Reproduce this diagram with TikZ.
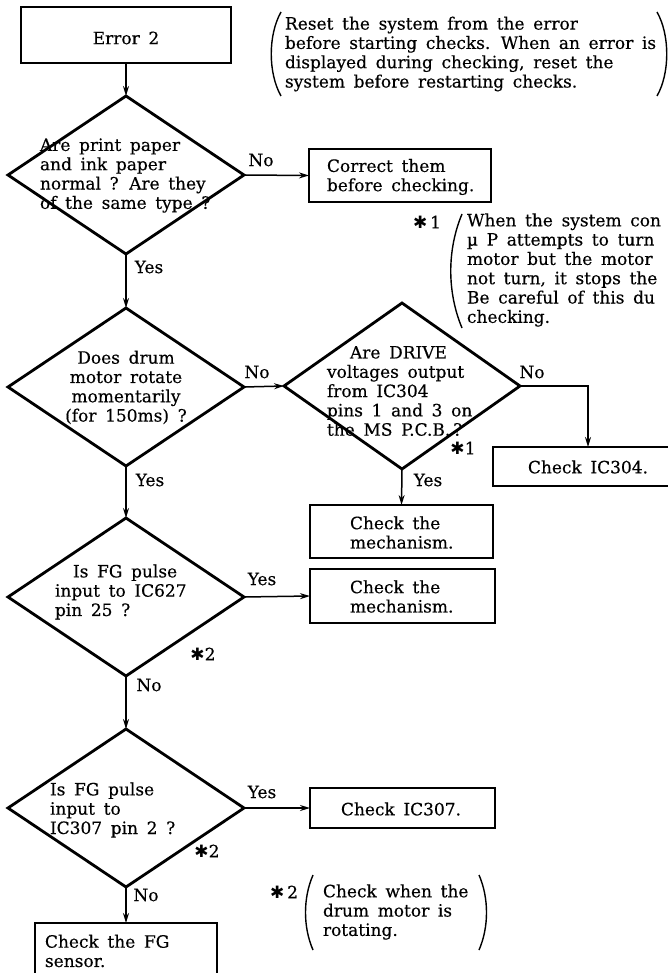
\documentclass[tikz,border=0pt]{standalone}
\usepackage{fontspec}
\setmainfont{DejaVu Serif}[FakeBold=0.35, WordSpace=1.6]
\newfontfamily\symfont{DejaVu Sans}
\usetikzlibrary{shapes.geometric,arrows.meta}
\newcommand{\mystar}{{\symfont\fontsize{17}{17}\selectfont ✱}}
\begin{document}
\begin{tikzpicture}[x=1pt,y=-1pt,
  every node/.style={font=\fontsize{17}{19.3}\selectfont, inner sep=0pt, outer sep=0pt},
  dia/.style={draw, shape=diamond, line width=2.8pt, minimum width=236pt, minimum height=158pt, inner sep=0pt, outer sep=0pt},
  bx/.style={draw, rectangle, line width=2.6pt, inner sep=0pt, outer sep=0pt},
  txt/.style={align=left, anchor=west},
  conn/.style={line width=1.5pt, -{Stealth[length=10pt,width=6pt]}},
  par/.style={line width=1.4pt}
]
\useasboundingbox (0,0) rectangle (668,973);
\fill[white] (0,0) rectangle (668,973);
\clip (0,0) rectangle (668,973);

% boxes
\node[bx, minimum width=210pt, minimum height=56pt] (err) at (126,35) {};
\node[bx, minimum width=182pt, minimum height=53pt] (cor) at (400,175.5) {};
\node[bx, minimum width=190pt, minimum height=39pt] (ic304) at (588,466.5) {};
\node[bx, minimum width=183pt, minimum height=53pt] (mech1) at (401.5,531.5) {};
\node[bx, minimum width=185pt, minimum height=54pt] (mech2) at (402.5,596) {};
\node[bx, minimum width=185pt, minimum height=40pt] (ic307) at (402.5,808) {};
\node[bx, minimum width=182pt, minimum height=58pt] (fg) at (126,952) {};

% diamonds
\node[dia] (d1) at (126,175) {};
\node[dia] (d2) at (126,387) {};
\node[dia, minimum height=166pt] (d3) at (402,386) {};
\node[dia] (d4) at (126,597) {};
\node[dia] (d5) at (126,808) {};

% connectors
\draw[conn] (err.south) -- (d1.north);
\draw[conn] (d1.east) -- (cor.west);
\draw[conn] (d1.south) -- (d2.north);
\draw[conn] (d2.east) -- (d3.west);
\draw[conn] (d3.east) -| (ic304.north);
\draw[conn] (d3.south) -- (mech1.north);
\draw[conn] (d2.south) -- (d4.north);
\draw[conn] (d4.east) -- (mech2.west);
\draw[conn] (d4.south) -- (d5.north);
\draw[conn] (d5.east) -- (ic307.west);
\draw[conn] (d5.south) -- (fg.north);

% texts in boxes
\node (tErr) at (126,38) {Error 2};
\node[txt] (tCor) at (327,177) {Correct them\\before checking.};
\node (tIC304) at (588,467) {Check IC304.};
\node[txt] (tM1) at (350,532.5) {Check the\\mechanism.};
\node[txt] (tM2) at (350,596.5) {Check the\\mechanism.};
\node (tIC307) at (401,809) {Check IC307.};
\node[txt] (tFG) at (45,951) {Check the FG\\sensor.};

% texts in diamonds
\node[txt] (tD1) at (40,175.5) {Are print paper\\and ink paper\\normal ? Are they\\of the same type ?};
\node[align=center] (tD2) at (126,387.5) {Does drum\\motor rotate\\momentarily\\(for 150ms) ?};
\node[txt] (tD3) at (327,391) {\hspace*{23pt}Are DRIVE\\voltages output\\from IC304\\pins 1 and 3 on\\the MS P.C.B.\,?};
\node[txt] (tD4) at (55,592) {\hspace*{18pt}Is FG pulse\\input to IC627\\pin 25 ?};
\node[txt] (tD5) at (50,810) {Is FG pulse\\input to\\IC307 pin 2 ?};

% labels
\node (lNo1) at (261,160) {No};
\node (lYes1) at (149,267) {Yes};
\node (lNo2) at (257,372) {No};
\node (lYes2) at (150,480) {Yes};
\node (lNo3) at (532,372) {No};
\node (lYes3) at (428,480) {Yes};
\node (s1) at (463,448) {\mystar 1};
\node (lYes4) at (262,579) {Yes};
\node (s2a) at (203,654) {\mystar 2};
\node (lNo4) at (149,685) {No};
\node (lYes5) at (262,792) {Yes};
\node (s2b) at (207,851) {\mystar 2};
\node (lNo5) at (146,895) {No};

% notes
\node[txt] (tNote1) at (285,54) {Reset the system from the error\\before starting checks. When an error is\\displayed during checking, reset the\\system before restarting checks.};
\draw[par] (281,12) .. controls (268,35) and (268,73) .. (281,96);
\draw[par] (657,12) .. controls (670,35) and (670,73) .. (657,96);

\node (s1n) at (427,222) {\mystar\,1};
\node[txt] (tNote2) at (467,270) {When the system con\\µ P attempts to turn\\motor but the motor\\not turn, it stops the\\Be careful of this du\\checking.};
\draw[par] (462,214) .. controls (447,250) and (447,292) .. (462,328);

\node (s2n) at (284,892) {\mystar\,2};
\node[txt] (tNote3) at (323,912) {Check when the\\drum motor is\\rotating.};
\draw[par] (313,875) .. controls (303,898) and (303,927) .. (313,950);
\draw[par] (479,875) .. controls (489,898) and (489,927) .. (479,950);
\end{tikzpicture}
\end{document}
